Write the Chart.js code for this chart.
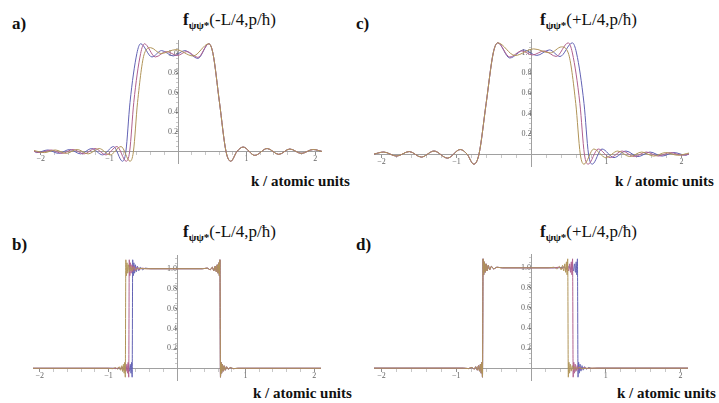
<!DOCTYPE html>
<html>
<head>
<meta charset="utf-8">
<script src="https://cdn.jsdelivr.net/npm/chart.js@4.4.1/dist/chart.umd.min.js"></script>
<style>
  body { margin: 0; background: #fff; width: 719px; height: 403px; position: relative; overflow: hidden;
         font-family: 'Liberation Serif', 'Times New Roman', Times, 'DejaVu Serif', 'Noto Serif', serif; color: #111; }
  canvas { position: absolute; }
  .lab { position: absolute; font-weight: bold; font-size: 17px; line-height: 17px; }
  .ttl { position: absolute; font-size: 17px; line-height: 17px; white-space: nowrap; }
  .ttl b { font-weight: bold; }
  .ttl sub { font-size: 11px; font-weight: bold; vertical-align: -4px; line-height: 0; }
  .ku { position: absolute; font-weight: bold; font-size: 15px; line-height: 15px; white-space: nowrap; }
</style>
</head>
<body>
<div class="lab" style="left:12px;top:15px">a)</div>
<div class="lab" style="left:356px;top:15px">c)</div>
<div class="lab" style="left:12px;top:236px">b)</div>
<div class="lab" style="left:356px;top:236px">d)</div>

<div class="ttl" style="left:183px;top:11px"><b>f</b><sub>ψψ*</sub>(-L/4,p/ħ)</div>
<div class="ttl" style="left:540px;top:11px"><b>f</b><sub>ψψ*</sub>(+L/4,p/ħ)</div>
<div class="ttl" style="left:183px;top:223px"><b>f</b><sub>ψψ*</sub>(-L/4,p/ħ)</div>
<div class="ttl" style="left:540px;top:223px"><b>f</b><sub>ψψ*</sub>(+L/4,p/ħ)</div>

<div class="ku" style="left:251px;top:174px">k / atomic units</div>
<div class="ku" style="left:615px;top:174px">k / atomic units</div>
<div class="ku" style="left:253px;top:386px">k / atomic units</div>
<div class="ku" style="left:617px;top:386px">k / atomic units</div>

<canvas id="pa" width="288" height="136" style="left:34px;top:34px"></canvas>
<canvas id="pc" width="315" height="140" style="left:374px;top:33px"></canvas>
<canvas id="pb" width="288" height="138" style="left:33px;top:249px"></canvas>
<canvas id="pd" width="314" height="139" style="left:374px;top:248px"></canvas>

<script>
// panel a: f(-L/4, p/hbar), three times
const aBlueK = [-2.1, -2.06, -1.9, -1.74, -1.58, -1.42, -1.26, -1.1, -0.94, -0.81, -0.76, -0.7, -0.6, -0.545, -0.38, -0.24, -0.07, 0.1, 0.29];
const aBlueF = [0.005, -0.012, 0.015, -0.02, 0.02, -0.025, 0.03, -0.035, 0.05, -0.1, 0, 0.5, 1.0, 1.1, 0.965, 1.03, 0.975, 1.03, 0.95];
const aPurpleK = [-2.1, -2.01, -1.85, -1.69, -1.53, -1.37, -1.21, -1.05, -0.89, -0.755, -0.705, -0.645, -0.545, -0.49, -0.33, -0.17, -0.01, 0.13, 0.29];
const aPurpleF = [0, -0.012, 0.015, -0.02, 0.02, -0.025, 0.03, -0.035, 0.05, -0.1, 0, 0.5, 1.0, 1.1, 0.965, 1.02, 0.98, 1.02, 0.96];
const aYellowK = [-2.1, -1.95, -1.79, -1.63, -1.47, -1.31, -1.15, -0.99, -0.83, -0.7, -0.65, -0.59, -0.49, -0.4, -0.25, -0.03, 0.22];
const aYellowF = [0.01, -0.012, 0.015, -0.02, 0.02, -0.025, 0.03, -0.035, 0.05, -0.1, 0, 0.5, 1.0, 1.06, 1.0, 1.04, 0.975];
// right side is the same for all three curves
const aRightK = [0.45, 0.51, 0.605, 0.7, 0.77, 0.86, 0.95, 1.12, 1.3, 1.47, 1.63, 1.8, 1.97, 2.1];
const aRightF = [1.1, 1.0, 0.5, 0, -0.1, 0, 0.045, -0.04, 0.03, -0.03, 0.025, -0.02, 0.02, 0];

// panel c: f(+L/4, p/hbar), left side shared
const cLeftK = [-2.1, -1.97, -1.8, -1.63, -1.47, -1.3, -1.12, -0.95, -0.86, -0.77, -0.7, -0.605, -0.51, -0.45];
const cLeftF = [0, 0.02, -0.02, 0.025, -0.03, 0.03, -0.04, 0.045, 0, -0.1, 0, 0.5, 1.0, 1.1];
const cBlueK = [-0.29, -0.1, 0.07, 0.24, 0.38, 0.545, 0.6, 0.7, 0.76, 0.81, 0.94, 1.1, 1.26, 1.42, 1.58, 1.74, 1.9, 2.06, 2.1];
const cBlueF = [0.95, 1.03, 0.975, 1.03, 0.965, 1.1, 1.0, 0.5, 0, -0.1, 0.05, -0.035, 0.03, -0.025, 0.02, -0.02, 0.015, -0.012, 0.005];
const cPurpleK = [-0.29, -0.13, 0.01, 0.17, 0.33, 0.49, 0.545, 0.645, 0.705, 0.755, 0.89, 1.05, 1.21, 1.37, 1.53, 1.69, 1.85, 2.01, 2.1];
const cPurpleF = [0.96, 1.02, 0.98, 1.02, 0.965, 1.1, 1.0, 0.5, 0, -0.1, 0.05, -0.035, 0.03, -0.025, 0.02, -0.02, 0.015, -0.012, 0];
const cYellowK = [-0.22, 0.03, 0.25, 0.4, 0.49, 0.59, 0.65, 0.7, 0.83, 0.99, 1.15, 1.31, 1.47, 1.63, 1.79, 1.95, 2.1];
const cYellowF = [0.975, 1.04, 1.0, 1.06, 1.0, 0.5, 0, -0.1, 0.05, -0.035, 0.03, -0.025, 0.02, -0.02, 0.015, -0.012, 0.01];

// panels b and d: sharp steps with ringing at the edges
const riseF = [0, -0.004, 0.007, -0.01, 0.015, -0.02, 0.025, -0.03, 0.04, -0.05, 0.06, -0.09, 1.09, 0.93, 1.06, 0.955, 1.04, 0.97, 1.025, 0.98, 1.015, 0.99, 1.006, 1.0];
const fallF = [1.0, 1.006, 0.99, 1.015, 0.98, 1.025, 0.97, 1.04, 0.955, 1.06, 0.93, 1.09, -0.09, 0.06, -0.05, 0.04, -0.03, 0.025, -0.02, 0.015, -0.01, 0.007, -0.004, 0];

const bYellowK = [-2.1, -1.01, -0.94, -0.895, -0.865, -0.842, -0.823, -0.807, -0.793, -0.781, -0.771, -0.762, -0.754, -0.746, -0.738, -0.729, -0.719, -0.707, -0.693, -0.677, -0.658, -0.635, -0.605, -0.56, -0.49];
const bPurpleK = [-2.1, -0.96, -0.89, -0.845, -0.815, -0.792, -0.773, -0.757, -0.743, -0.731, -0.721, -0.712, -0.704, -0.696, -0.688, -0.679, -0.669, -0.657, -0.643, -0.627, -0.608, -0.585, -0.555, -0.51, -0.44];
const bBlueK = [-2.1, -0.91, -0.84, -0.795, -0.765, -0.742, -0.723, -0.707, -0.693, -0.681, -0.671, -0.662, -0.654, -0.646, -0.638, -0.629, -0.619, -0.607, -0.593, -0.577, -0.558, -0.535, -0.505, -0.46, -0.39];
const bRightK = [0.37, 0.44, 0.485, 0.515, 0.538, 0.557, 0.573, 0.587, 0.599, 0.609, 0.618, 0.626, 0.634, 0.642, 0.651, 0.661, 0.673, 0.687, 0.703, 0.722, 0.745, 0.775, 0.82, 0.89, 2.1];

const dLeftK = [-2.1, -0.905, -0.835, -0.79, -0.76, -0.737, -0.718, -0.702, -0.688, -0.676, -0.666, -0.657, -0.649, -0.641, -0.633, -0.624, -0.614, -0.602, -0.588, -0.572, -0.553, -0.53, -0.5, -0.455, -0.385];
const dYellowK = [0.235, 0.305, 0.35, 0.38, 0.403, 0.422, 0.438, 0.452, 0.464, 0.474, 0.483, 0.491, 0.499, 0.507, 0.516, 0.526, 0.538, 0.552, 0.568, 0.587, 0.61, 0.64, 0.685, 0.755, 2.1];
const dPurpleK = [0.3, 0.37, 0.415, 0.445, 0.468, 0.487, 0.503, 0.517, 0.529, 0.539, 0.548, 0.556, 0.564, 0.572, 0.581, 0.591, 0.603, 0.617, 0.633, 0.652, 0.675, 0.705, 0.75, 0.82, 2.1];
const dBlueK = [0.365, 0.435, 0.48, 0.51, 0.533, 0.552, 0.568, 0.582, 0.594, 0.604, 0.613, 0.621, 0.629, 0.637, 0.646, 0.656, 0.668, 0.682, 0.698, 0.717, 0.74, 0.77, 0.815, 0.885, 2.1];

// ticks
const xTicks = [-2, -1.8, -1.6, -1.4, -1.2, -1, -0.8, -0.6, -0.4, -0.2, 0.2, 0.4, 0.6, 0.8, 1, 1.2, 1.4, 1.6, 1.8, 2];
const xLabels = [-2, -1, 1, 2];
const yTicks = [0.05, 0.1, 0.15, 0.2, 0.25, 0.3, 0.35, 0.4, 0.45, 0.5, 0.55, 0.6, 0.65, 0.7, 0.75, 0.8, 0.85, 0.9, 0.95, 1, 1.05, 1.1];
const yLabels = [0.2, 0.4, 0.6, 0.8, 1];

const BLUE = '#6262b4', PURPLE = '#b0608e', YELLOW = '#b09458';
const SERIF = "'Liberation Serif', 'Times New Roman', Times, 'DejaVu Serif', serif";

function pts(ks, fs) {
  return ks.map((k, i) => ({ x: k, y: fs[i] }));
}

// first dataset is painted last, so yellow goes first to sit on top
function panel(id, series) {
  new Chart(document.getElementById(id), {
    type: 'line',
    data: {
      datasets: series.map(s => ({
        data: pts(s[0], s[1]),
        borderColor: s[2],
        borderWidth: 1,
        pointRadius: 0,
        cubicInterpolationMode: 'monotone',
        fill: false,
        clip: false
      }))
    },
    options: {
      responsive: false,
      animation: false,
      events: [],
      layout: { padding: 0, autoPadding: false },
      plugins: { legend: { display: false }, tooltip: { enabled: false } },
      scales: {
        x: {
          type: 'linear', min: -2.1, max: 2.1,
          position: { y: 0 },
          afterBuildTicks: s => { s.ticks = xTicks.map(v => ({ value: v })); },
          afterFit: s => { s.height = 0; },
          border: { color: '#a0a0a0', width: 1 },
          grid: { drawOnChartArea: false, tickLength: 3,
                  tickColor: c => xLabels.includes(c.tick.value) ? '#909090' : '#c8c8c8' },
          ticks: {
            autoSkip: false, maxRotation: 0, padding: 0, color: '#666',
            font: { family: SERIF, size: 8 },
            callback: v => xLabels.includes(v) ? (v < 0 ? '\u2212' + (-v) : String(v)) : ''
          }
        },
        y: {
          type: 'linear', min: -0.12, max: 1.13,
          position: { x: 0 },
          afterBuildTicks: s => { s.ticks = yTicks.map(v => ({ value: v })); },
          afterFit: s => { s.width = 0; },
          border: { color: '#a0a0a0', width: 1 },
          grid: { drawOnChartArea: false, tickLength: 2,
                  tickColor: c => yLabels.includes(c.tick.value) ? '#909090' : '#c8c8c8' },
          ticks: {
            autoSkip: false, padding: 2, color: '#666',
            font: { family: SERIF, size: 8 },
            callback: v => yLabels.includes(v) ? v.toFixed(1) : ''
          }
        }
      }
    }
  });
}

panel('pa', [
  [aYellowK.concat(aRightK), aYellowF.concat(aRightF), YELLOW],
  [aPurpleK.concat(aRightK), aPurpleF.concat(aRightF), PURPLE],
  [aBlueK.concat(aRightK), aBlueF.concat(aRightF), BLUE]
]);
panel('pc', [
  [cLeftK.concat(cYellowK), cLeftF.concat(cYellowF), YELLOW],
  [cLeftK.concat(cPurpleK), cLeftF.concat(cPurpleF), PURPLE],
  [cLeftK.concat(cBlueK), cLeftF.concat(cBlueF), BLUE]
]);
panel('pb', [
  [bYellowK.concat(bRightK), [0].concat(riseF, fallF, [0]), YELLOW],
  [bPurpleK.concat(bRightK), [0].concat(riseF, fallF, [0]), PURPLE],
  [bBlueK.concat(bRightK), [0].concat(riseF, fallF, [0]), BLUE]
]);
panel('pd', [
  [dLeftK.concat(dYellowK), [0].concat(riseF, fallF, [0]), YELLOW],
  [dLeftK.concat(dPurpleK), [0].concat(riseF, fallF, [0]), PURPLE],
  [dLeftK.concat(dBlueK), [0].concat(riseF, fallF, [0]), BLUE]
]);
</script>
</body>
</html>
